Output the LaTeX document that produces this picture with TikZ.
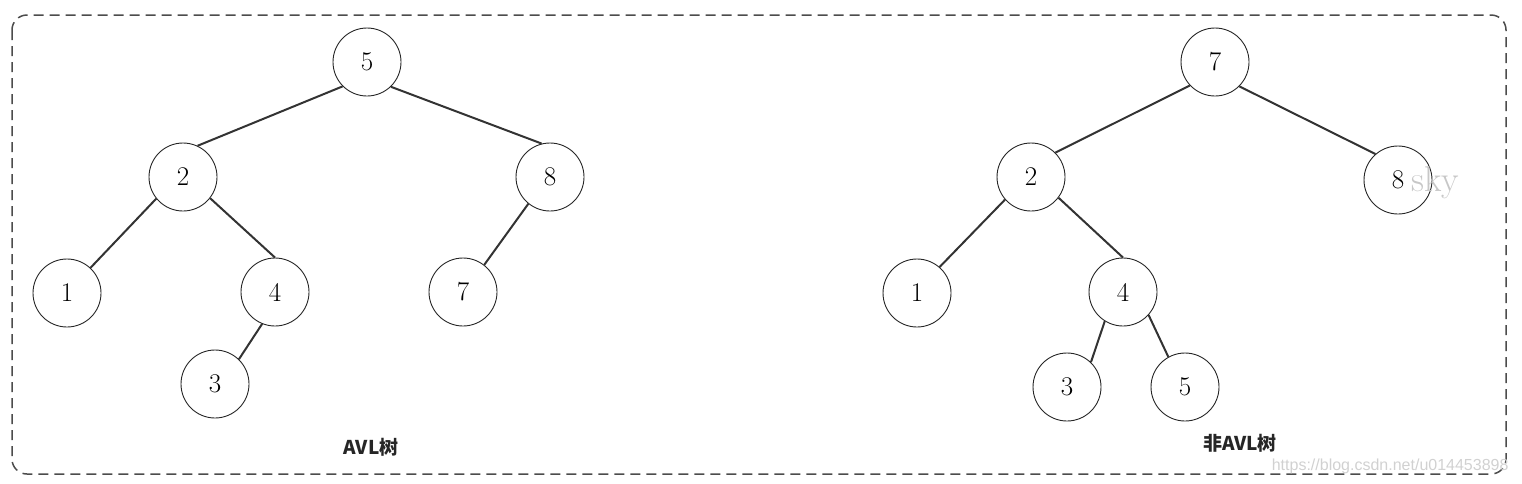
\documentclass[tikz,border=0pt]{standalone}
\usepackage{fontspec}
\newfontfamily\cjk{Noto Sans CJK SC}
\newfontfamily\wm{Liberation Sans}
\begin{document}
\begin{tikzpicture}[x=1pt,y=-1pt,
  tnode/.style={circle,draw=black!85,line width=0.9pt,minimum size=68pt,inner sep=0pt,font=\fontsize{27}{30}\selectfont},
  edge/.style={draw=black!80,line width=2pt},
  lbl/.style={font=\cjk\bfseries\fontsize{19}{22}\selectfont,text=black!85}]
\useasboundingbox (0,0) rectangle (1522,483);
\draw[black!70,line width=1.5pt,dash pattern=on 10pt off 6pt,rounded corners=15pt] (12,15) rectangle (1506,474);
% left tree
\node[tnode] (a5) at (367,62) {5};
\node[tnode] (a2) at (183,177) {2};
\node[tnode] (a8) at (550,177) {8};
\node[tnode] (a1) at (67,293) {1};
\node[tnode] (a4) at (275,292) {4};
\node[tnode] (a7) at (463,292) {7};
\node[tnode] (a3) at (215,384) {3};
\draw[edge] (a5.225) -- (a2.65);
\draw[edge] (a5.314) -- (a8.104);
\draw[edge] (a2.219) -- (a1.47);
\draw[edge] (a2.322) -- (a4.90);
\draw[edge] (a8.231) -- (a7.52);
\draw[edge] (a4.248) -- (a3.46);
% right tree
\node[tnode] (b7) at (1215,62) {7};
\node[tnode] (b2) at (1031,177) {2};
\node[tnode] (b8) at (1398,180) {8};
\node[tnode] (b1) at (917,293) {1};
\node[tnode] (b4) at (1123,292) {4};
\node[tnode] (b3) at (1067,387) {3};
\node[tnode] (b5) at (1185,387) {5};
\draw[edge] (b7.223) -- (b2.45);
\draw[edge] (b7.315) -- (b8.131);
\draw[edge] (b2.221) -- (b1.49);
\draw[edge] (b2.323) -- (b4.90);
\draw[edge] (b4.238) -- (b3.46);
\draw[edge] (b4.318) -- (b5.119);
% labels
\node[lbl] (la) at (371,447) {AVL树};
\node[lbl] (lb) at (1240,443) {非AVL树};
% watermarks
\node[text=black!22,font=\fontsize{36}{40}\selectfont] (sky) at (1435,183) {sky};
\node[text=black!18,font=\wm\fontsize{16}{19}\selectfont,anchor=east] (url) at (1512,466) {https://blog.csdn.net/u014453898};
\end{tikzpicture}
\end{document}
